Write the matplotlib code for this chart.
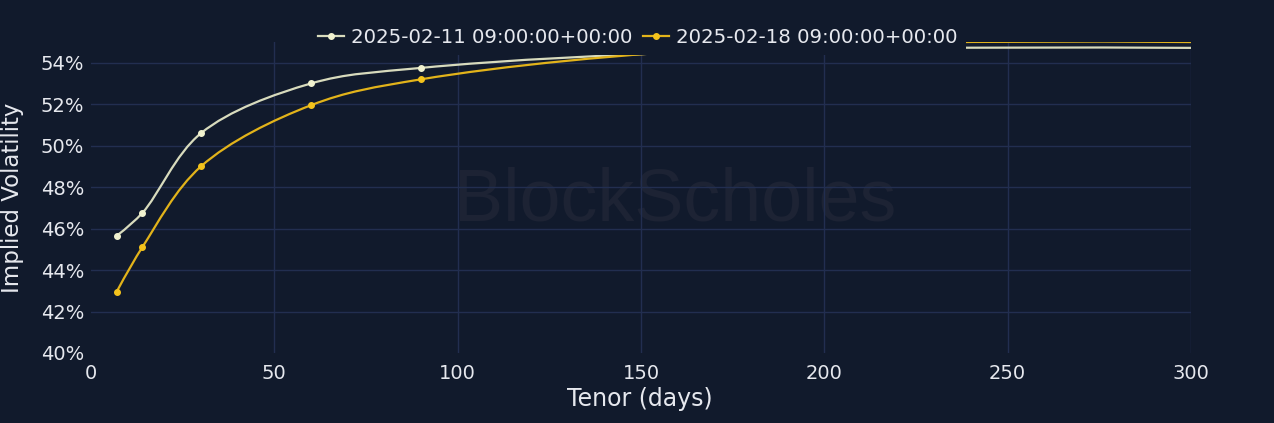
import numpy as np
import matplotlib
matplotlib.use('Agg')
import matplotlib.pyplot as plt
from matplotlib.path import Path
from matplotlib.patches import PathPatch
from matplotlib.lines import Line2D
from matplotlib.ticker import FuncFormatter

# Term structure of implied vol (tenor in days, vol in %)
tenors = [7, 14, 30, 60, 90, 180, 365]
vol_0211 = [45.65, 46.75, 50.6, 53.0, 53.75, 54.6, 54.65]
vol_0218 = [42.95, 45.1, 49.0, 51.95, 53.2, 54.75, 54.9]
series_labels = ['2025-02-11 09:00:00+00:00', '2025-02-18 09:00:00+00:00']
x_ticks = [0, 50, 100, 150, 200, 250, 300]
y_ticks = [40, 42, 44, 46, 48, 50, 52, 54]

BG = '#111a2c'
GRID = '#222e50'
TXT = '#e6e8ee'
LINE_COLORS = ['#d8dbbd', '#e2b31a']
MARKER_COLORS = ['#f1f2cf', '#f4c31c']

plt.rcParams['font.family'] = ['DejaVu Sans']

# rough pixel scale of the plot area, used so the curve smoothing behaves like on screen
PX_X = 1100 / 300
PX_Y = 311 / 15


def spline_path(x, y, smooth=1.0):
    # catmull-rom style smoothing (plotly 'spline' shape), built as bezier segments
    pts = np.column_stack([np.asarray(x, float) * PX_X, np.asarray(y, float) * PX_Y])
    n = len(pts)
    tang = []
    for i in range(1, n - 1):
        d1 = pts[i - 1] - pts[i]
        d2 = pts[i + 1] - pts[i]
        a1 = np.hypot(*d1) ** 0.5
        a2 = np.hypot(*d2) ** 0.5
        num = (a2 * a2 * d1 - a1 * a1 * d2) * smooth
        c_prev = pts[i] + num / (3 * a2 * (a1 + a2))
        c_next = pts[i] - num / (3 * a1 * (a1 + a2))
        tang.append((c_prev, c_next))
    verts = [pts[0], tang[0][0], pts[1]]
    codes = [Path.MOVETO, Path.CURVE3, Path.CURVE3]
    for i in range(2, n - 1):
        verts += [tang[i - 2][1], tang[i - 1][0], pts[i]]
        codes += [Path.CURVE4] * 3
    verts += [tang[n - 3][1], pts[n - 1]]
    codes += [Path.CURVE3] * 2
    verts = np.array(verts) / [PX_X, PX_Y]
    return Path(verts, codes)


fig = plt.figure(figsize=(12.74, 4.23), dpi=100, facecolor=BG)
ax = fig.add_axes([0.0714, 0.1655, 0.8634, 0.7352])
ax.set_facecolor(BG)

ax.text(0.531, 0.49, 'BlockScholes', transform=ax.transAxes, ha='center', va='center',
        fontsize=53, color='#1d2334', family='Liberation Sans', zorder=0.5)

handles = []
for i, vols in enumerate([vol_0211, vol_0218]):
    ax.add_patch(PathPatch(spline_path(tenors, vols), fill=False, edgecolor=LINE_COLORS[i],
                           linewidth=1.6, zorder=3))
    ax.plot(tenors, vols, linestyle='none', marker='o', markersize=4,
            color=MARKER_COLORS[i], zorder=4)
    handles.append(Line2D([], [], color=LINE_COLORS[i], linewidth=1.6, marker='o',
                          markersize=4, markerfacecolor=MARKER_COLORS[i],
                          markeredgecolor=MARKER_COLORS[i]))

ax.set_xlim(0, 300)
ax.set_ylim(40, 55)
ax.set_xticks(x_ticks)
ax.set_yticks(y_ticks)
ax.yaxis.set_major_formatter(FuncFormatter(lambda v, p: f'{v:.0f}%'))

ax.grid(True, color=GRID, linewidth=1.0, zorder=1)
ax.set_axisbelow(True)
# no grid line on the axis edges (x=0, 40%)
ax.xaxis.get_major_ticks()[0].gridline.set_visible(False)
ax.yaxis.get_major_ticks()[0].gridline.set_visible(False)
for s in ax.spines.values():
    s.set_visible(False)
ax.tick_params(length=0, colors=TXT, labelsize=14)
ax.tick_params(axis='x', pad=8)
ax.tick_params(axis='y', pad=5)

ax.set_xlabel('Tenor (days)', fontsize=17, color=TXT, va='center')
ax.xaxis.set_label_coords(0.499, -0.148)
ax.set_ylabel('Implied Volatility', fontsize=16.5, color=TXT, va='center')
ax.yaxis.set_label_coords(-0.0715, 0.5)

leg = ax.legend(handles, series_labels, loc='center', bbox_to_anchor=(0.497, 1.016),
                ncol=2, frameon=True, facecolor=BG, edgecolor=BG, framealpha=1.0,
                fontsize=14.2, handlelength=1.3, handletextpad=0.35, columnspacing=0.55,
                borderpad=0.45, borderaxespad=0)
for t in leg.get_texts():
    t.set_color(TXT)
leg.get_frame().set_linewidth(0)

fig.savefig('out.png', dpi=100, facecolor=BG)
